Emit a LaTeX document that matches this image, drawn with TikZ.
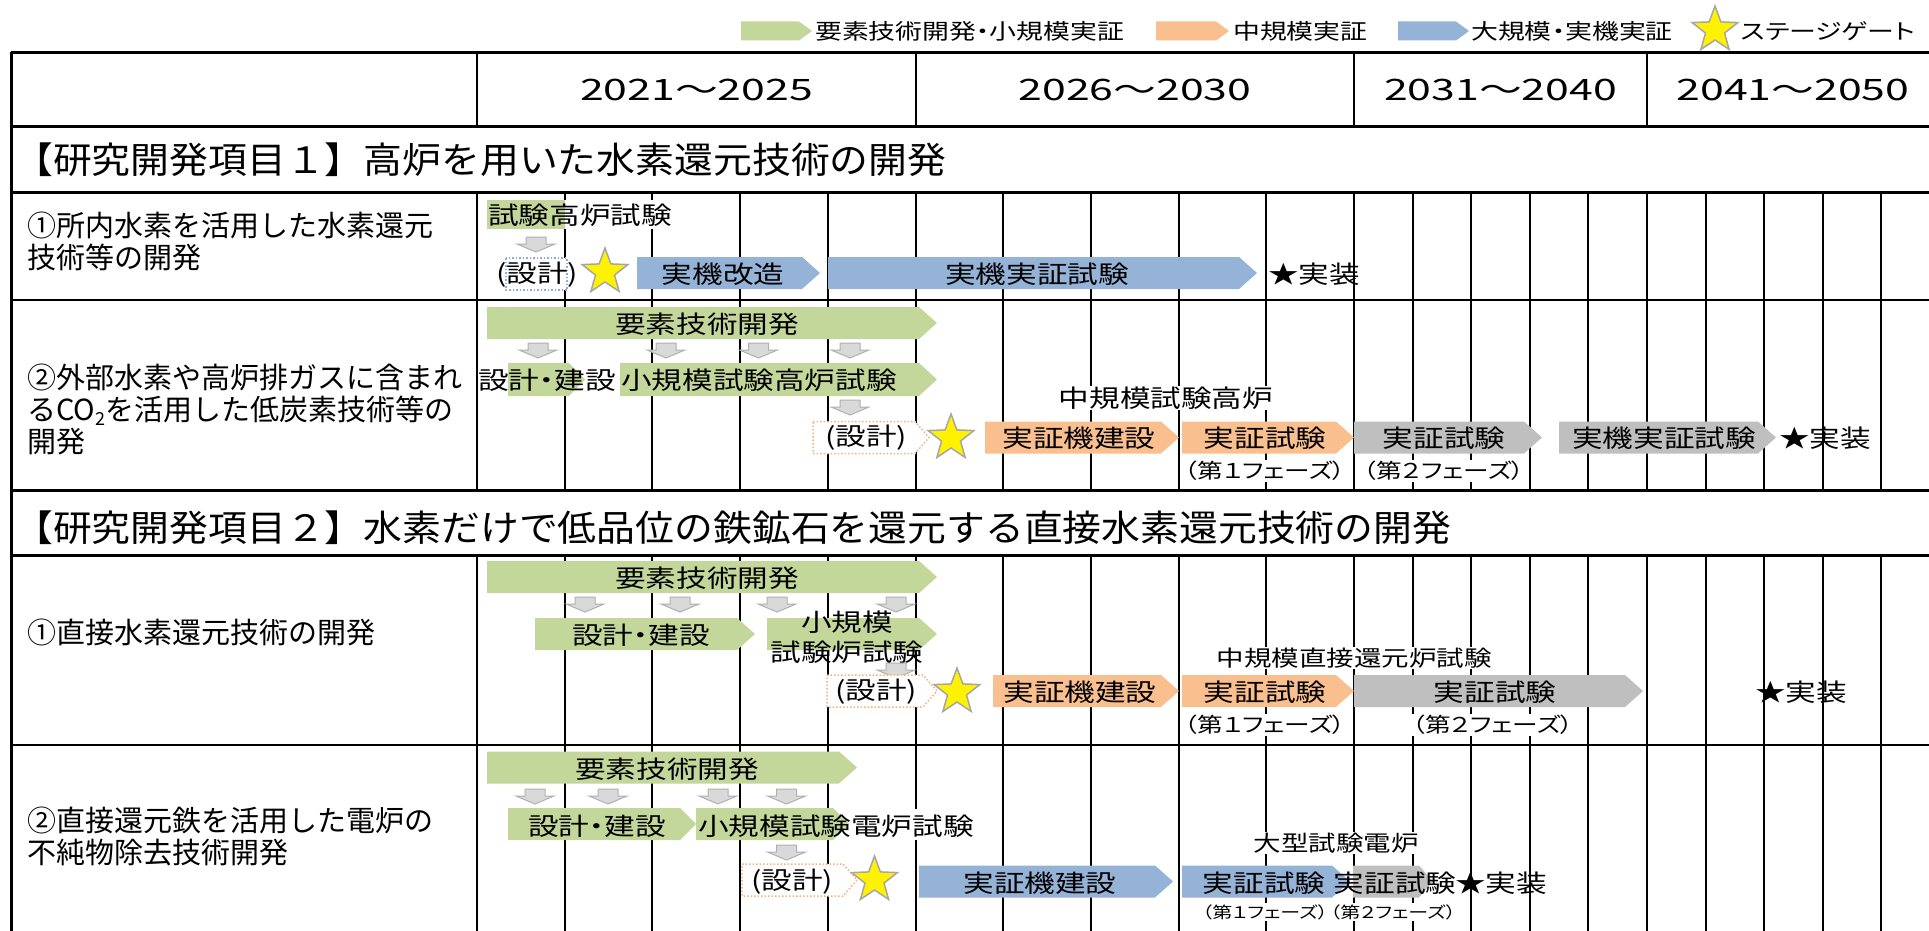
\documentclass[tikz,border=0pt]{standalone}
\usepackage{fontspec}
\setmainfont{Noto Sans CJK JP}
\newfontfamily\hdf{Noto Sans CJK JP}[FakeStretch=1.07]
\newfontfamily\brf{Noto Sans CJK JP}[FakeStretch=1.25,RawFeature=+palt]
\newfontfamily\yrf{Noto Sans CJK JP}[FakeStretch=1.45]
\usetikzlibrary{shapes.geometric}
\definecolor{cgreen}{HTML}{C4D79B}
\definecolor{corange}{HTML}{FABF8F}
\definecolor{cblue}{HTML}{95B3D7}
\definecolor{cgrey}{HTML}{BFBFBF}
\definecolor{arrfill}{HTML}{D9D9D9}
\definecolor{arrline}{HTML}{B0B0B0}
\definecolor{dotblue}{HTML}{8FAADC}
\definecolor{dotorange}{HTML}{F4B183}
\definecolor{starline}{HTML}{A6A6A6}
\newcommand\fsz[1]{\fontsize{#1}{#1}\selectfont}
\newcommand\pbar[6]{\fill[#6] (#1,#3-#4) -- (#2-#5,#3-#4) -- (#2,#3) -- (#2-#5,#3+#4) -- (#1,#3+#4) -- cycle;}
\newcommand\dbox[4]{\path[draw=#4, dotted, line width=1.5pt, fill=white] (#1,#3-16) -- (#2-14,#3-16) -- (#2,#3) -- (#2-14,#3+16) -- (#1,#3+16) -- cycle;}
\newcommand\darr[2]{\path[fill=arrfill, draw=arrline, line width=1pt] (#1-10,#2) -- (#1+10,#2) -- (#1+10,#2+7) -- (#1+19,#2+7) -- (#1,#2+15) -- (#1-19,#2+7) -- (#1-10,#2+7) -- cycle;}
\tikzset{
  bt/.style={font=\brf\fsz{24.5}, inner sep=0pt},
  an/.style={font=\brf\fsz{22}, inner sep=1pt, fill=white},
  ph/.style={font=\brf\fsz{20.5}, inner sep=1pt, fill=white},
  lbl/.style={font=\fontsize{29}{32}\selectfont, anchor=west, align=left, inner sep=0pt},
  sec/.style={font=\hdf\fsz{36.3}, anchor=west, inner sep=0pt},
  yr/.style={font=\yrf\fsz{29.5}, inner sep=0pt},
  lgt/.style={font=\brf\fsz{21.5}, anchor=west, inner sep=0pt},
  gstar/.style={star, star points=5, star point ratio=2.4, fill=yellow, draw=starline, line width=1.5pt, inner sep=0pt, minimum size=48pt},
  thk/.style={line width=3pt},
  thn/.style={line width=2pt}
}
\begin{document}
\begin{tikzpicture}[x=1pt,y=-1pt]
\useasboundingbox (0,0) rectangle (1929,931);
\clip (0,0) rectangle (1929,931);
\fill[white] (0,0) rectangle (1929,931);
% legend
\pbar{741}{812}{31}{9.5}{13}{cgreen}
\node[lgt] (lg1) at (815,31) {要素技術開発・小規模実証};
\pbar{1156}{1229}{31}{9.5}{13}{corange}
\node[lgt] (lg2) at (1233,31) {中規模実証};
\pbar{1398}{1469}{31}{9.5}{13}{cblue}
\node[lgt] (lg3) at (1471,31) {大規模・実機実証};
\node[gstar] (lgs) at (1715,30) {};
\node[lgt] (lg4) at (1741,31) {ステージゲート};
% grid
\foreach \x in {564.7,652.4,740.1,827.8,915.5,1003.2,1090.9,1178.6,1266.3,1354,1412.6,1471.2,1529.8,1588.4,1647,1705.6,1764.2,1822.8,1881.4}{
  \draw[thn] (\x,192) -- (\x,490);
  \draw[thn] (\x,555) -- (\x,931);
}
\draw[thn] (477,192) -- (477,490);
\draw[thn] (477,555) -- (477,931);
\foreach \x in {477,915.5,1354,1647}{\draw[thn] (\x,53) -- (\x,127);}
\foreach \y in {53,127,192,490,555}{\draw[thk] (11,\y) -- (1929,\y);}
\foreach \y in {300,745}{\draw[thn] (11,\y) -- (1929,\y);}
\draw[thk] (11,52) -- (11,931);
% header
\node[yr] (y1) at (696.5,90) {2021～2025};
\node[yr] (y2) at (1135,90) {2026～2030};
\node[yr] (y3) at (1500.5,90) {2031～2040};
\node[yr] (y4) at (1793,90) {2041～2050};
\node[sec] (s1) at (14,160) {【研究開発項目１】高炉を用いた水素還元技術の開発};
\node[sec] (s2) at (14,528) {【研究開発項目２】水素だけで低品位の鉄鉱石を還元する直接水素還元技術の開発};
% row labels
\node[lbl] (l1) at (27,241) {①所内水素を活用した水素還元\\技術等の開発};
\node[lbl] (l2) at (27,409) {②外部水素や高炉排ガスに含まれ\\るCO\raisebox{-0.35ex}{\fsz{18}2}を活用した低炭素技術等の\\開発};
\node[lbl] (l3) at (27,632) {①直接水素還元技術の開発};
\node[lbl] (l4) at (27,836) {②直接還元鉄を活用した電炉の\\不純物除去技術開発};
% row 1
\fill[white] (565,200) rectangle (674,229);
\fill[cgreen] (487,200) rectangle (565,229);
\node[bt] (r1a) at (580,215) {試験高炉試験};
\darr{536}{237}
\draw[dotblue, dotted, line width=1.5pt, fill=white] (506,258) rectangle (567,290);
\node[bt] (r1b) at (537,275) {(設計)};
\node[gstar] (r1s) at (605,272) {};
\pbar{637}{820}{273}{16}{18}{cblue}
\node[bt] (r1c) at (723,274) {実機改造};
\pbar{828}{1257}{273}{16}{18}{cblue}
\node[bt] (r1d) at (1037,274) {実機実証試験};
\node[bt] (r1e) at (1314,274) {★実装};
% row 2
\pbar{487}{937}{323}{16}{18}{cgreen}
\node[bt] (r2a) at (707,324) {要素技術開発};
\darr{538}{343}\darr{666}{343}\darr{758.5}{343}\darr{850}{343}
\pbar{508}{585}{379.5}{16.5}{16}{cgreen}
\node[bt] (r2b) at (547,380) {設計・建設};
\pbar{620}{937}{379.5}{16.5}{18}{cgreen}
\node[bt] (r2c) at (759,380) {小規模試験高炉試験};
\darr{850}{400}
\dbox{813}{929}{437.5}{dotorange}
\node[bt] (r2d) at (866,438) {(設計)};
\node[gstar] (r2s) at (951,438) {};
\pbar{985}{1179}{437.5}{16}{18}{corange}
\node[bt] (r2e) at (1079,438) {実証機建設};
\pbar{1182}{1354}{437.5}{16}{18}{corange}
\node[bt] (r2f) at (1265,438) {実証試験};
\node[an, font=\brf\fsz{24.5}] (r2g) at (1166,398) {中規模試験高炉};
\node[ph] (r2h) at (1265,471) {（第１フェーズ）};
\pbar{1354}{1542}{437.5}{16}{18}{cgrey}
\node[bt] (r2i) at (1444,438) {実証試験};
\node[ph] (r2j) at (1444,471) {（第２フェーズ）};
\pbar{1559}{1776}{437.5}{16}{18}{cgrey}
\node[bt] (r2k) at (1664,438) {実機実証試験};
\node[bt] (r2l) at (1825,438) {★実装};
% row 3
\pbar{487}{937}{577}{16}{18}{cgreen}
\node[bt] (r3a) at (707,578) {要素技術開発};
\darr{585}{597}\darr{680}{597}\darr{777}{597}\darr{896}{597}
\pbar{535}{755}{634}{16}{18}{cgreen}
\node[bt] (r3b) at (641,635) {設計・建設};
\pbar{767}{937}{634}{16}{18}{cgreen}
\node[bt, align=center, font=\brf\fontsize{24.5}{30}\selectfont] (r3c) at (847,637) {小規模\\試験炉試験};
\darr{896}{663}
\dbox{827}{937}{691}{dotorange}
\node[bt] (r3d) at (876,692) {(設計)};
\node[gstar] (r3s) at (957,692) {};
\pbar{993}{1179}{691}{16}{18}{corange}
\node[bt] (r3e) at (1080,692) {実証機建設};
\pbar{1182}{1354}{691}{16}{18}{corange}
\node[bt] (r3f) at (1265,692) {実証試験};
\node[an] (r3g) at (1354,658) {中規模直接還元炉試験};
\node[ph] (r3h) at (1265,725) {（第１フェーズ）};
\pbar{1354}{1643}{691}{16}{18}{cgrey}
\node[bt] (r3i) at (1495,692) {実証試験};
\node[ph] (r3j) at (1493,725) {（第２フェーズ）};
\node[bt] (r3k) at (1801,692) {★実装};
% row 4
\pbar{487}{857}{767.5}{16}{18}{cgreen}
\node[bt] (r4a) at (667,769) {要素技術開発};
\darr{535}{789}\darr{608}{789}\darr{718}{789}\darr{786.5}{789}
\fill[white] (845,809) rectangle (978,840);
\pbar{508}{696}{824}{16}{16}{cgreen}
\node[bt] (r4b) at (597,826) {設計・建設};
\pbar{696}{849}{824}{16}{16}{cgreen}
\node[bt] (r4c) at (836,826) {小規模試験電炉試験};
\darr{786.5}{845}
\dbox{742}{857}{880}{dotorange}
\node[bt] (r4d) at (792,882) {(設計)};
\node[gstar] (r4s) at (874.5,880) {};
\pbar{919}{1173}{881.5}{16}{18}{cblue}
\node[bt] (r4e) at (1040,883) {実証機建設};
\pbar{1182}{1350}{881.5}{16}{18}{cblue}
\pbar{1353}{1433}{881.5}{16}{14}{cgrey}
\node[bt] (r4f) at (1264,883) {実証試験};
\node[bt] (r4g) at (1395,883) {実証試験};
\node[bt] (r4h) at (1501,883) {★実装};
\node[an] (r4i) at (1336,843) {大型試験電炉};
\node[ph, font=\brf\fsz{16}] (r4j) at (1265,912) {（第１フェーズ）};
\node[ph, font=\brf\fsz{16}] (r4k) at (1393,912) {（第２フェーズ）};
\end{tikzpicture}
\end{document}
